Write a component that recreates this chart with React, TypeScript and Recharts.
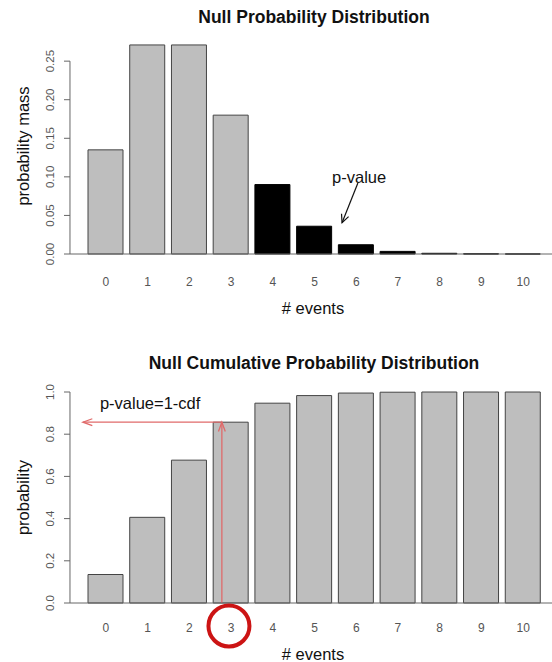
import React from 'react';
import { BarChart, Bar, XAxis, YAxis, Cell, ReferenceLine, ReferenceDot, Label } from 'recharts';

const events = ['0', '1', '2', '3', '4', '5', '6', '7', '8', '9', '10'];
const positions = [0, 1, 2, 3, 4, 5, 6, 7, 8, 9, 10];
const pmfValues = [0.135, 0.271, 0.271, 0.18, 0.09, 0.036, 0.012, 0.0034, 0.0009, 0.0002, 0.00004];
const cdfValues = [0.135, 0.406, 0.677, 0.857, 0.947, 0.983, 0.995, 0.999, 1.0, 1.0, 1.0];
const tailFlags = [false, false, false, false, true, true, true, true, true, true, true];
const pmfTicks = [0, 0.05, 0.1, 0.15, 0.2, 0.25];
const cdfTicks = [0, 0.2, 0.4, 0.6, 0.8, 1.0];

const observed = 3;
const pValueCdf = cdfValues[observed];

const rows = events.map((e, i) => ({ event: e, pos: positions[i], pmf: pmfValues[i], cdf: cdfValues[i] }));

const FONT = '"Liberation Sans", Arial, Helvetica, sans-serif';
const AXIS_X = -0.86; // numeric position of the y-axis line (plot left edge)

const makeRotTick = (digits: number) => (props: any) => {
  const { x, y, payload } = props;
  return (
    <text
      x={x}
      y={y}
      transform={`rotate(-90 ${x} ${y})`}
      textAnchor="middle"
      fontSize={11.5}
      fontFamily={FONT}
      fill="#555"
    >
      {Number(payload.value).toFixed(digits)}
    </text>
  );
};

const yLabel = (text: string) => (props: any) => {
  const vb = props.viewBox || {};
  const cx = (vb.x ?? 0) + 29;
  const cy = (vb.y ?? 0) + (vb.height ?? 0) / 2;
  return (
    <text x={cx} y={cy} transform={`rotate(-90 ${cx} ${cy})`} textAnchor="middle" fontSize={16.5} fontFamily={FONT} fill="#111">
      {text}
    </text>
  );
};

const xLabel = (text: string, dy: number) => (props: any) => {
  const vb = props.viewBox || {};
  const cx = (vb.x ?? 0) + (vb.width ?? 0) / 2 + 2;
  const cy = (vb.y ?? 0) + dy;
  return (
    <text x={cx} y={cy} textAnchor="middle" fontSize={16.5} fontFamily={FONT} fill="#111">
      {text}
    </text>
  );
};

const arrowShape = (color: string, width: number, len: number, angDeg: number) => (p: any) => {
  const { x1, y1, x2, y2 } = p;
  const ang = Math.atan2(y2 - y1, x2 - x1);
  const a = (angDeg * Math.PI) / 180;
  const hx1 = x2 - len * Math.cos(ang - a);
  const hy1 = y2 - len * Math.sin(ang - a);
  const hx2 = x2 - len * Math.cos(ang + a);
  const hy2 = y2 - len * Math.sin(ang + a);
  return (
    <g>
      <line x1={x1} y1={y1} x2={x2} y2={y2} stroke={color} strokeWidth={width} />
      <polyline points={`${hx1},${hy1} ${x2},${y2} ${hx2},${hy2}`} fill="none" stroke={color} strokeWidth={width} />
    </g>
  );
};

const textShape = (text: string, size: number) => (p: any) => (
  <text x={p.cx} y={p.cy} textAnchor="middle" dominantBaseline="central" fontSize={size} fontFamily={FONT} fill="#111">
    {text}
  </text>
);

const plainLine = (color: string) => (p: any) => (
  <line x1={p.x1} y1={p.y1} x2={p.x2} y2={p.y2} stroke={color} strokeWidth={1} />
);

const titleStyle: React.CSSProperties = {
  position: 'absolute',
  left: 76,
  width: 476,
  textAlign: 'center',
  fontFamily: FONT,
  fontWeight: 'bold',
  fontSize: 17.5,
  lineHeight: '20px',
  color: '#111',
};

export default function App() {
  return (
    <div style={{ position: 'absolute', left: 0, top: 0, width: 552, height: 662, background: '#fff', overflow: 'hidden' }}>
      <div style={{ ...titleStyle, top: 7 }}>Null Probability Distribution</div>
      <div style={{ position: 'absolute', left: 0, top: 0 }}>
        <BarChart width={552} height={331} data={rows} margin={{ top: 38, right: 0, bottom: 7, left: 0 }} barSize={35}>
          <XAxis
            dataKey="event"
            padding={{ left: 15, right: 8 }}
            tickLine={false}
            tickSize={0}
            tickMargin={23}
            axisLine={{ stroke: '#666' }}
            tick={{ fill: '#555', fontSize: 12, fontFamily: FONT }}
            height={70}
            interval={0}
          >
            <Label content={xLabel('# events', 60)} />
          </XAxis>
          <XAxis xAxisId="n" type="number" dataKey="pos" domain={[-0.5, 10.5]} padding={{ left: 15, right: 8 }} hide />
          <YAxis
            width={70}
            domain={[0, 0.28]}
            ticks={pmfTicks}
            axisLine={false}
            tickLine={{ stroke: '#666' }}
            tickSize={6}
            tickMargin={10}
            tick={makeRotTick(2)}
          >
            <Label content={yLabel('probability mass')} />
          </YAxis>
          <ReferenceLine
            xAxisId="n"
            segment={[{ x: AXIS_X, y: 0 }, { x: AXIS_X, y: 0.25 }]}
            ifOverflow="visible"
            shape={plainLine('#666')}
          />
          <Bar dataKey="pmf" isAnimationActive={false} stroke="#333" strokeWidth={1}>
            {rows.map((r, i) => (
              <Cell key={r.event} fill={tailFlags[i] ? '#000' : '#bebebe'} stroke={tailFlags[i] ? '#000' : '#444'} />
            ))}
          </Bar>
          <ReferenceDot xAxisId="n" x={6.07} y={0.0995} r={0} ifOverflow="visible" shape={textShape('p-value', 16.5)} />
          <ReferenceLine
            xAxisId="n"
            segment={[{ x: 6.04, y: 0.092 }, { x: 5.66, y: 0.0405 }]}
            ifOverflow="visible"
            shape={arrowShape('#111', 1.2, 9, 25)}
          />
        </BarChart>
      </div>

      <div style={{ ...titleStyle, top: 353 }}>Null Cumulative Probability Distribution</div>
      <div style={{ position: 'absolute', left: 0, top: 331 }}>
        <BarChart width={552} height={331} data={rows} margin={{ top: 61, right: 0, bottom: 4, left: 0 }} barSize={35}>
          <XAxis
            dataKey="event"
            padding={{ left: 15, right: 8 }}
            tickLine={false}
            tickSize={0}
            tickMargin={20}
            axisLine={{ stroke: '#666' }}
            tick={{ fill: '#555', fontSize: 12, fontFamily: FONT }}
            height={55}
            interval={0}
          >
            <Label content={xLabel('# events', 57)} />
          </XAxis>
          <XAxis xAxisId="n" type="number" dataKey="pos" domain={[-0.5, 10.5]} padding={{ left: 15, right: 8 }} hide />
          <YAxis
            width={70}
            domain={[0, 1]}
            ticks={cdfTicks}
            axisLine={false}
            tickLine={{ stroke: '#666' }}
            tickSize={6}
            tickMargin={10}
            tick={makeRotTick(1)}
          >
            <Label content={yLabel('probability')} />
          </YAxis>
          <ReferenceLine
            xAxisId="n"
            segment={[{ x: AXIS_X, y: 0 }, { x: AXIS_X, y: 1 }]}
            ifOverflow="visible"
            shape={plainLine('#666')}
          />
          <Bar dataKey="cdf" isAnimationActive={false} fill="#bebebe" stroke="#444" strokeWidth={1} />
          <ReferenceLine
            xAxisId="n"
            segment={[{ x: 2.78, y: 0 }, { x: 2.78, y: pValueCdf }]}
            ifOverflow="visible"
            shape={arrowShape('#e06a6a', 1.3, 10, 20)}
          />
          <ReferenceLine
            xAxisId="n"
            segment={[{ x: 2.78, y: pValueCdf }, { x: -0.55, y: pValueCdf }]}
            ifOverflow="visible"
            shape={arrowShape('#e06a6a', 1.3, 10, 20)}
          />
          <ReferenceDot xAxisId="n" x={1.06} y={0.948} r={0} ifOverflow="visible" shape={textShape('p-value=1-cdf', 16.5)} />
          <ReferenceDot
            xAxisId="n"
            x={2.95}
            y={-0.109}
            r={20.5}
            ifOverflow="visible"
            fill="none"
            stroke="#cc1414"
            strokeWidth={4}
          />
        </BarChart>
      </div>
    </div>
  );
}
